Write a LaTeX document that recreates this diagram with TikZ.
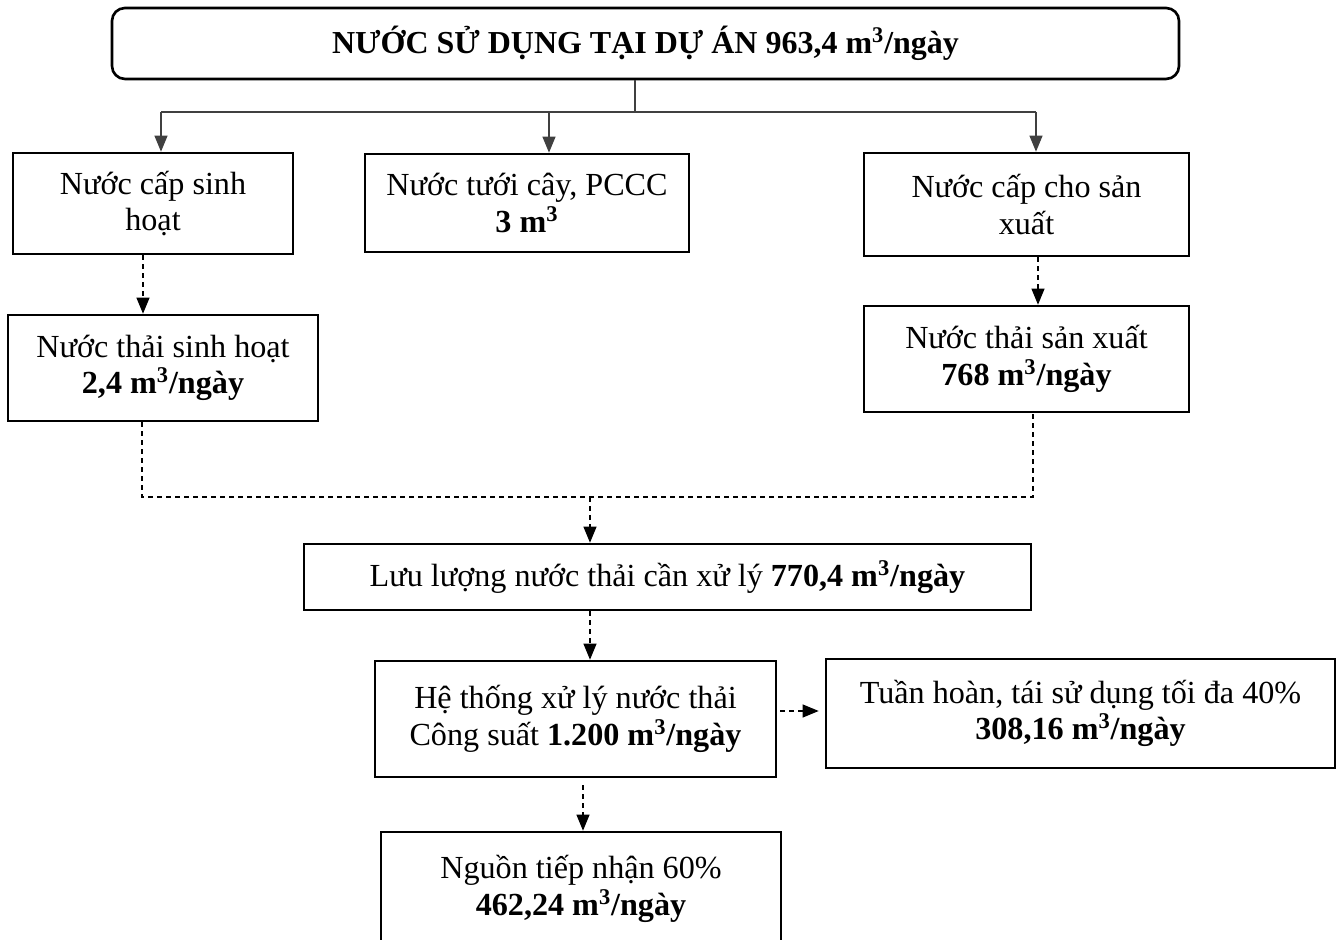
\documentclass[tikz,border=0pt]{standalone}
\usepackage{fontspec}
\setmainfont{Liberation Serif}
\usetikzlibrary{arrows.meta}

\begin{document}
\begin{tikzpicture}[x=0.2mm, y=-0.2mm,
    box/.style={draw, line width=1.5pt, align=center, inner sep=0pt,
      font=\fontsize{18.3}{20.8}\selectfont},
    trunk/.style={draw=black!75, line width=0.65pt},
    feed/.style={trunk, -{Triangle[length=3.2mm, width=2.6mm]}},
    flowline/.style={draw, line width=0.6pt, dash pattern=on 1mm off 0.8mm},
    flow/.style={flowline, -{Triangle[length=3.2mm, width=2.6mm]}}]

  \useasboundingbox (0, 0) rectangle (1336, 940);

  % nguon nuoc
  \node [box, rounded corners=2.6mm, minimum width=213.4mm, minimum height=14.2mm,
    font=\fontsize{18.2}{21}\selectfont\bfseries] (title) at (645.5, 43.5)
    {NƯỚC SỬ DỤNG TẠI DỰ ÁN 963,4 m\textsuperscript{3}/ngày};

  \node [box, minimum width=56mm, minimum height=20.2mm] (supply) at (153, 203.5)
    {Nước cấp sinh\\hoạt};
  \node [box, minimum width=64.8mm, minimum height=19.6mm] (irrig) at (527, 203)
    {Nước tưới cây, PCCC\\\textbf{3 m\textsuperscript{3}}};
  \node [box, minimum width=65mm, minimum height=20.6mm] (prodin) at (1026.5, 204.5)
    {Nước cấp cho sản\\xuất};

  % nuoc thai
  \node [box, minimum width=62mm, minimum height=21.2mm] (domwaste) at (163, 368)
    {Nước thải sinh hoạt\\\textbf{2,4 m\textsuperscript{3}/ngày}};
  \node [box, minimum width=65mm, minimum height=21.2mm] (prodwaste) at (1026.5, 359)
    {Nước thải sản xuất\\\textbf{768 m\textsuperscript{3}/ngày}};

  \node [box, minimum width=145.4mm, minimum height=13.2mm] (total) at (667.5, 577)
    {Lưu lượng nước thải cần xử lý \textbf{770,4 m\textsuperscript{3}/ngày}};
  \node [box, minimum width=80.2mm, minimum height=23.2mm] (plant) at (575.5, 719)
    {Hệ thống xử lý nước thải\\Công suất \textbf{1.200 m\textsuperscript{3}/ngày}};
  \node [box, minimum width=101.8mm, minimum height=21.8mm] (reuse) at (1080.5, 713.5)
    {Tuần hoàn, tái sử dụng tối đa 40\%\\\textbf{308,16 m\textsuperscript{3}/ngày}};
  \node [box, minimum width=80mm, minimum height=22.8mm] (outlet) at (581, 889)
    {Nguồn tiếp nhận 60\%\\\textbf{462,24 m\textsuperscript{3}/ngày}};

  % phan nhanh cap nuoc
  \coordinate (split) at (635, 112);
  \coordinate (splitL) at (161, 112);
  \coordinate (splitM) at (549, 112);
  \coordinate (splitR) at (1036, 112);
  \draw [trunk] (title.south -| split) -- (split);
  \draw [trunk] (splitL) -- (splitR);
  \draw [feed] (splitL) -- (splitL |- supply.north);
  \draw [feed] (splitM) -- (splitM |- irrig.north);
  \draw [feed] (splitR) -- (splitR |- prodin.north);

  % dong nuoc thai
  \draw [flow] ([xshift=-2mm]supply.south) -- ([xshift=-2mm]supply.south |- domwaste.north);
  \draw [flow] ([xshift=2.3mm]prodin.south) -- ([xshift=2.3mm]prodin.south |- prodwaste.north);

  \coordinate (merge) at (590, 497);
  \draw [flowline] ([xshift=-4.2mm]domwaste.south) |- (merge)
    -| ([xshift=1.3mm]prodwaste.south);
  \draw [flow] (merge) -- (merge |- total.north);
  \draw [flow] (merge |- total.south) -- (merge |- plant.north);
  \draw [flow, shorten <=0.6mm, shorten >=1.2mm] ([yshift=1.6mm]plant.east)
    -- ([yshift=1.6mm]plant.east -| reuse.west);
  \draw [flow, shorten <=1.4mm] ([xshift=1.5mm]plant.south) -- ([xshift=1.5mm]plant.south |- outlet.north);
\end{tikzpicture}
\end{document}
